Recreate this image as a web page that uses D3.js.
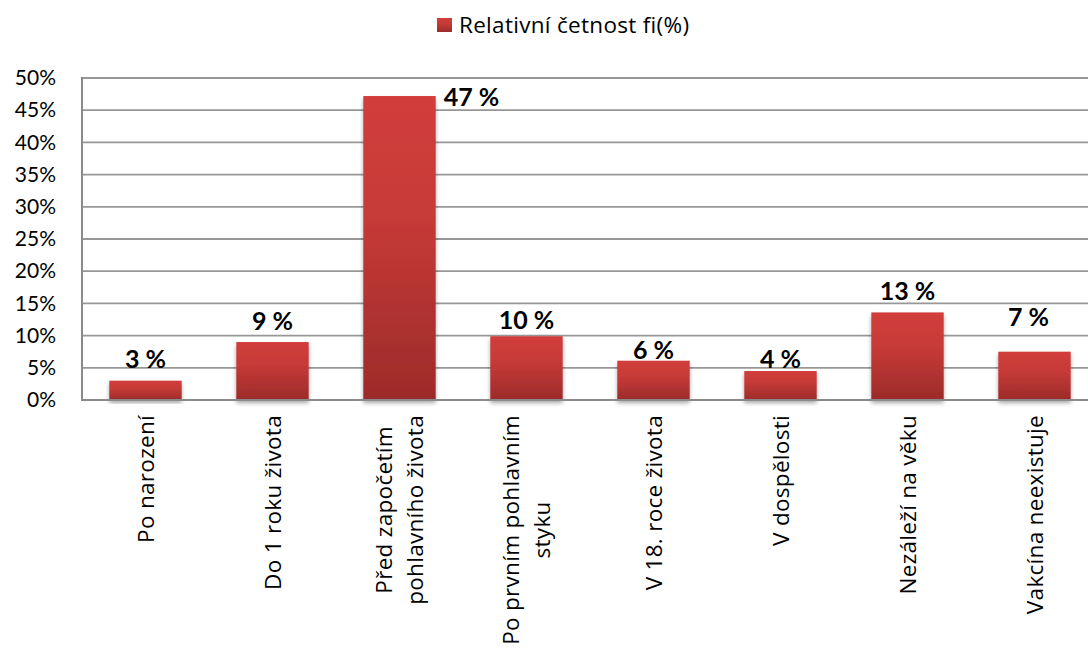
<!DOCTYPE html>
<html>
<head>
<meta charset="utf-8">
<script src="https://cdn.jsdelivr.net/npm/d3@7"></script>
<style>
  body { margin: 0; background: #fff; }
  text { font-family: Lato, "Open Sans", sans-serif; fill: #000; font-variant-ligatures: none; }
  .wide { font-family: "Open Sans", Lato, sans-serif; }
</style>
</head>
<body>
<script>
'use strict';

// chart data
const categories = [
  "Po narození",
  "Do 1 roku života",
  "Před započetím\npohlavního života",
  "Po prvním pohlavním\nstyku",
  "V 18. roce života",
  "V dospělosti",
  "Nezáleží na věku",
  "Vakcína neexistuje"
];
const values = [0.030, 0.090, 0.472, 0.099, 0.061, 0.045, 0.136, 0.075];
const valueLabels = ["3 %", "9 %", "47 %", "10 %", "6 %", "4 %", "13 %", "7 %"];
const yTicks = [0, 0.05, 0.10, 0.15, 0.20, 0.25, 0.30, 0.35, 0.40, 0.45, 0.50];
const seriesName = "Relativní četnost fi(%)";

const width = 1088, height = 648;
const plotLeft = 82, plotTop = 78, plotBottom = 400, step = 127;

let svg = d3.select('body')
  .append('svg')
  .attr('width', width)
  .attr('height', height);

let defs = svg.append('defs');
let grad = defs.append('linearGradient')
  .attr('id', 'barGrad')
  .attr('x1', 0).attr('y1', 0).attr('x2', 0).attr('y2', 1);
grad.append('stop').attr('offset', '0%').attr('stop-color', '#d13e3b');
grad.append('stop').attr('offset', '40%').attr('stop-color', '#c63a37');
grad.append('stop').attr('offset', '100%').attr('stop-color', '#9c2b2a');

let shadow = defs.append('filter')
  .attr('id', 'shadow')
  .attr('x', '-20%').attr('y', '-20%').attr('width', '140%').attr('height', '140%');
shadow.append('feDropShadow')
  .attr('dx', 0).attr('dy', 3)
  .attr('stdDeviation', 2.2)
  .attr('flood-color', '#000')
  .attr('flood-opacity', 0.35);

// scales
let xScale = d3.scaleBand()
  .domain(categories)
  .range([plotLeft, plotLeft + step * categories.length])
  .paddingInner(0.43)
  .paddingOuter(0.215);

let yScale = d3.scaleLinear()
  .domain([0, 0.5])
  .range([plotBottom, plotTop]);

// gridlines
svg.append('g')
  .selectAll('line')
  .data(yTicks.slice(1))
  .enter()
  .append('line')
    .attr('x1', plotLeft)
    .attr('x2', plotLeft + step * categories.length)
    .attr('y1', d => yScale(d))
    .attr('y2', d => yScale(d))
    .style('stroke', '#979797')
    .style('stroke-width', 1.8);

// y axis labels
let yAxis = d3.axisLeft(yScale)
  .tickValues(yTicks)
  .tickFormat(d => Math.round(d * 100) + '%')
  .tickSize(0)
  .tickPadding(26);
let yAxisG = svg.append('g')
  .attr('transform', `translate(${plotLeft}, 0)`)
  .call(yAxis);
yAxisG.select('.domain').remove();
yAxisG.selectAll('text')
  .attr('font-family', null)
  .style('font-size', '21px')
  .attr('fill', '#000');

// bars
svg.append('g')
  .selectAll('rect')
  .data(values)
  .enter()
  .append('rect')
    .attr('x', (d, i) => xScale(categories[i]))
    .attr('y', d => yScale(d))
    .attr('width', xScale.bandwidth())
    .attr('height', d => plotBottom - yScale(d))
    .attr('fill', 'url(#barGrad)')
    .attr('filter', 'url(#shadow)');

// axis lines
svg.append('line')
  .attr('x1', plotLeft).attr('x2', plotLeft)
  .attr('y1', plotTop - 1).attr('y2', plotBottom + 1)
  .style('stroke', '#8a8a8a').style('stroke-width', 2);
svg.append('line')
  .attr('x1', plotLeft - 1).attr('x2', plotLeft + step * categories.length)
  .attr('y1', plotBottom).attr('y2', plotBottom)
  .style('stroke', '#8a8a8a').style('stroke-width', 2);

// data labels (gap above bar top, manually placed as in the original)
const labelGap = [13, 12, 0, 7, 2, 3.5, 12.5, 26];
const labelShift = [0, 0, 0, 0, 0, 0, 0, -6];
svg.append('g')
  .selectAll('text')
  .data(values)
  .enter()
  .append('text')
    .attr('x', (d, i) => i === 2
      ? xScale(categories[i]) + xScale.bandwidth() + 8
      : xScale(categories[i]) + xScale.bandwidth() / 2 + labelShift[i])
    .attr('y', (d, i) => i === 2 ? yScale(d) + 10 : yScale(d) - labelGap[i])
    .attr('text-anchor', (d, i) => i === 2 ? 'start' : 'middle')
    .style('font-size', '25px')
    .style('font-weight', 'bold')
    .text((d, i) => valueLabels[i]);

// category labels, rotated
let catG = svg.append('g')
  .selectAll('g')
  .data(categories)
  .enter()
  .append('g')
    .attr('transform', d => `translate(${xScale(d) + xScale.bandwidth() / 2}, 415) rotate(-90)`);

catG.each(function(d) {
  let g = d3.select(this);
  let lines = d.split('\n');
  let lineH = 31;
  let texts = lines.map((line, j) => g.append('text')
    .attr('class', 'wide')
    .attr('y', (j - (lines.length - 1) / 2) * lineH)
    .attr('dy', '0.36em')
    .style('font-size', '22.5px')
    .style('letter-spacing', '0.3px')
    .text(line));
  let maxLen = d3.max(texts, t => t.node().getComputedTextLength());
  texts.forEach(t => t
    .attr('x', -maxLen / 2)
    .attr('text-anchor', 'middle'));
});

// legend
svg.append('rect')
  .attr('x', 437).attr('y', 18)
  .attr('width', 15).attr('height', 14)
  .attr('fill', 'url(#barGrad)');
svg.append('text')
  .attr('class', 'wide')
  .attr('x', 459).attr('y', 32.5)
  .style('font-size', '22.5px')
  .style('letter-spacing', '0.3px')
  .text(seriesName);
</script>
</body>
</html>
